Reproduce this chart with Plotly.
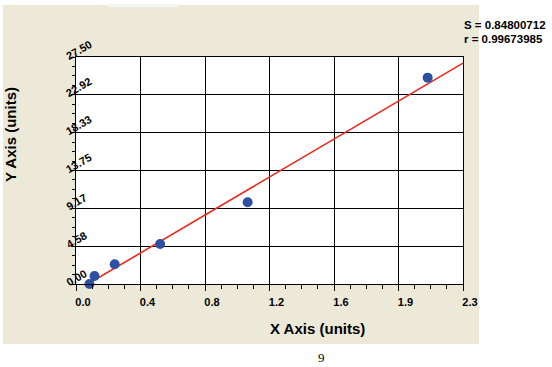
import plotly.graph_objects as go

# ---- data ----
x_points = [0.08, 0.11, 0.23, 0.50, 1.02, 2.09]
y_points = [0.0, 0.97, 2.4, 4.85, 9.9, 25.0]

fit_x = [0.07, 2.3]
fit_y = [0.0, 26.75]

x_tick_vals = [0.0, 2.3 / 6, 2 * 2.3 / 6, 3 * 2.3 / 6, 4 * 2.3 / 6, 5 * 2.3 / 6, 2.3]
x_tick_text = ["0.0", "0.4", "0.8", "1.2", "1.6", "1.9", "2.3"]
y_tick_vals = [0.0, 27.5 / 6, 2 * 27.5 / 6, 3 * 27.5 / 6, 4 * 27.5 / 6, 5 * 27.5 / 6, 27.5]
y_tick_text = ["0.00", "4.58", "9.17", "13.75", "18.33", "22.92", "27.50"]

stat_lines = ["S = 0.84800712", "r = 0.99673985"]
x_title = "X Axis (units)"
y_title = "Y Axis (units)"
page_label = "9"

# ---- layout constants (pixels) ----
W, H = 552, 367
L, R, T, B = 76, 463, 57, 284
PW, PH = R - L, B - T


def px(xp):
    return (xp - L) / PW


def py(yp):
    return (B - yp) / PH


BEIGE = "#ECE9D8"
FONT = "Liberation Sans, Arial, sans-serif"

fig = go.Figure()

fig.add_trace(go.Scatter(
    x=fit_x, y=fit_y, mode="lines",
    line=dict(color="#EA2A1E", width=1.6),
    hoverinfo="skip", showlegend=False, cliponaxis=False,
))
fig.add_trace(go.Scatter(
    x=x_points, y=y_points, mode="markers",
    marker=dict(color="#2D50A3", size=10, line=dict(width=0)),
    showlegend=False, cliponaxis=False,
))

minor_x = [k * 2.3 / 24 for k in range(25) if k % 4 != 0]
minor_y = [k * 27.5 / 24 for k in range(25) if k % 4 != 0]

fig.update_xaxes(
    range=[0, 2.3], tickmode="array", tickvals=x_tick_vals, ticktext=x_tick_text,
    ticks="outside", ticklen=6, tickwidth=1.2, tickcolor="black",
    showgrid=True, gridcolor="black", gridwidth=1.3,
    showline=True, linecolor="black", linewidth=1.3, mirror=True,
    zeroline=False, ticklabelshift=7, ticklabelstandoff=2,
    tickfont=dict(family=FONT, size=11, color="black", weight="bold"),
    minor=dict(tickmode="array", tickvals=minor_x, ticks="outside", ticklen=4,
               tickwidth=1, tickcolor="black", showgrid=False),
)
fig.update_yaxes(
    range=[0, 27.5], tickmode="array", tickvals=y_tick_vals, ticktext=y_tick_text,
    showticklabels=False,
    ticks="outside", ticklen=4, tickwidth=1.2, tickcolor="black",
    showgrid=True, gridcolor="black", gridwidth=1.3,
    showline=True, linecolor="black", linewidth=1.3, mirror=True,
    zeroline=False,
    minor=dict(tickmode="array", tickvals=minor_y, ticks="outside", ticklen=3,
               tickwidth=1, tickcolor="black", showgrid=False),
)

shapes = [
    dict(type="rect", xref="paper", yref="paper", layer="below",
         x0=px(3), x1=px(479), y0=py(344), y1=py(5),
         fillcolor=BEIGE, line=dict(width=0)),
    dict(type="rect", xref="paper", yref="paper", layer="below",
         x0=px(107), x1=px(178), y0=py(7), y1=py(4),
         fillcolor="#F5F4EE", line=dict(width=0)),
    dict(type="rect", xref="paper", yref="paper", layer="below",
         x0=0, x1=1, y0=0, y1=1,
         fillcolor="white", line=dict(width=0)),
]

annotations = []
# rotated y tick labels
for v, t in zip(y_tick_vals, y_tick_text):
    w = 11 * (0.556 * (len(t) - 1) + 0.278)
    cx = 67 + 0.433 * w
    annotations.append(dict(
        xref="paper", yref="y", x=px(cx), y=v, xanchor="center", yanchor="middle",
        yshift=0.25 * w + 0.5, text=t, showarrow=False, textangle=-30,
        font=dict(family=FONT, size=11, color="black", weight="bold"),
    ))
annotations.append(dict(
    xref="paper", yref="paper", x=px(317), y=py(328), text=x_title, showarrow=False,
    xanchor="center", yanchor="middle",
    font=dict(family=FONT, size=15, color="black", weight="bold"),
))
annotations.append(dict(
    xref="paper", yref="paper", x=px(10), y=py(135), text=y_title, showarrow=False,
    xanchor="center", yanchor="middle", textangle=-90,
    font=dict(family=FONT, size=15, color="black", weight="bold"),
))
for i, s in enumerate(stat_lines):
    annotations.append(dict(
        xref="paper", yref="paper", x=px(462), y=py(25 + 14 * i), text=s, showarrow=False,
        xanchor="left", yanchor="middle",
        font=dict(family=FONT, size=11.5, color="black", weight="bold"),
    ))
annotations.append(dict(
    xref="paper", yref="paper", x=px(321), y=py(357), text=page_label, showarrow=False,
    xanchor="center", yanchor="middle",
    font=dict(family="Liberation Serif, Times New Roman, serif", size=13, color="black"),
))

fig.update_layout(
    width=W, height=H, autosize=False,
    margin=dict(l=L, r=W - R, t=T, b=H - B, pad=0),
    paper_bgcolor="white", plot_bgcolor="white",
    shapes=shapes, annotations=annotations, showlegend=False,
)

fig.write_html("out.html")
